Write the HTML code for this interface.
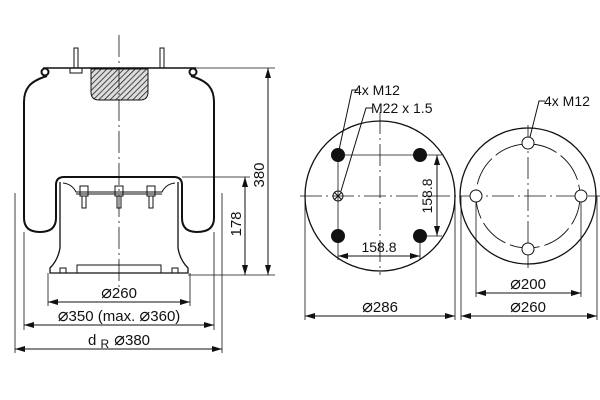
<!DOCTYPE html>
<html><head><style>body{margin:0;background:#fff}svg{display:block}text{font-family:"Liberation Sans",sans-serif;fill:#111}.d{font-size:18px}</style></head><body>
<svg width="600" height="400" viewBox="0 0 600 400" xmlns="http://www.w3.org/2000/svg">
<defs>
<pattern id="h" width="4" height="4" patternUnits="userSpaceOnUse" patternTransform="rotate(45)"><rect width="4" height="4" fill="#ddd"/><line x1="0" y1="0" x2="0" y2="4" stroke="#222" stroke-width="1.6"/></pattern>
<marker id="a" viewBox="0 0 10 6" refX="10" refY="3" markerWidth="10" markerHeight="6" orient="auto-start-reverse" markerUnits="userSpaceOnUse"><path d="M0,0L10,3L0,6z" fill="#111"/></marker>
</defs>
<g fill="none" stroke="#111" stroke-width="1">
<line x1="43" y1="68" x2="196" y2="68" stroke-width="1.5"/>
<rect x="74" y="48" width="4" height="20"/><rect x="160" y="48" width="4" height="20"/>
<rect x="70" y="68" width="12" height="5"/>
<path d="M91,69 H148 V92 Q148,100 140,100 H99 Q91,100 91,92 Z" fill="url(#h)"/>
<circle cx="45" cy="72" r="3.5" stroke-width="2"/><circle cx="193" cy="72" r="3.5" stroke-width="2"/>
<path d="M47,76 Q34,80 29,86 Q24,92 24,102 V218 Q24,232 40,232 Q56,232 56,218 V185 Q56,177 64,177 H174 Q182,177 182,185 V218 Q182,232 197,232 Q214,232 214,218 V102 Q214,92 209,86 Q204,80 191,76" stroke-width="2"/>
<path d="M60,182 V248 Q58,260 50,268 V273 H188 V268 Q180,260 178,248 V182" stroke-width="1.3"/>
<path d="M63,183 Q72,184 76,192 H162 Q166,184 175,183"/>
<line x1="76" y1="194" x2="162" y2="194"/>
<rect x="80" y="186" width="8" height="10"/><rect x="115" y="186" width="8" height="10"/><rect x="147" y="186" width="8" height="10"/>
<rect x="82" y="196" width="4" height="12"/><rect x="117" y="196" width="4" height="12"/><rect x="149" y="196" width="4" height="12"/>
<path d="M77,273 V265 H161 V273"/>
<rect x="60" y="268" width="6" height="5"/><rect x="172" y="268" width="6" height="5"/>
<line x1="119" y1="35" x2="119" y2="290" stroke-dasharray="22,4,2,4" stroke-width="0.8"/>
<line x1="196" y1="68" x2="275" y2="68" stroke-width="0.8"/>
<line x1="182" y1="177" x2="250" y2="177" stroke-width="0.8"/>
<line x1="188" y1="275" x2="275" y2="275" stroke-width="0.8"/>
<line x1="268" y1="68" x2="268" y2="275" marker-start="url(#a)" marker-end="url(#a)"/>
<line x1="245" y1="177" x2="245" y2="275" marker-start="url(#a)" marker-end="url(#a)"/>
<line x1="48" y1="273" x2="48" y2="306" stroke-width="0.8"/><line x1="190" y1="273" x2="190" y2="306" stroke-width="0.8"/>
<line x1="24" y1="232" x2="24" y2="330" stroke-width="0.8"/><line x1="214" y1="232" x2="214" y2="330" stroke-width="0.8"/>
<line x1="15" y1="193" x2="15" y2="353" stroke-width="0.8"/><line x1="222" y1="193" x2="222" y2="353" stroke-width="0.8"/>
<line x1="48" y1="302" x2="190" y2="302" marker-start="url(#a)" marker-end="url(#a)"/>
<line x1="24" y1="325" x2="214" y2="325" marker-start="url(#a)" marker-end="url(#a)"/>
<line x1="15" y1="349" x2="222" y2="349" marker-start="url(#a)" marker-end="url(#a)"/>
<circle cx="380" cy="196" r="75" stroke-width="1.3"/>
<line x1="300" y1="196" x2="600" y2="196" stroke-dasharray="22,4,2,4" stroke-width="0.8"/>
<line x1="380" y1="112" x2="380" y2="275" stroke-dasharray="22,4,2,4" stroke-width="0.8"/>
<line x1="338" y1="155" x2="338" y2="260" stroke-width="0.8"/><line x1="420" y1="236" x2="420" y2="260" stroke-width="0.8"/>
<line x1="338" y1="155" x2="442" y2="155" stroke-width="0.8"/><line x1="420" y1="236" x2="442" y2="236" stroke-width="0.8"/>
<line x1="437" y1="155" x2="437" y2="236" marker-start="url(#a)" marker-end="url(#a)"/>
<line x1="338" y1="256" x2="420" y2="256" marker-start="url(#a)" marker-end="url(#a)"/>
<circle cx="338" cy="196" r="5"/><path d="M334.5,192.5l7,7M341.5,192.5l-7,7"/>
<path d="M358,90 H352 L339,150"/><path d="M372,108 H366 L341,191"/>
<line x1="305" y1="196" x2="305" y2="320" stroke-width="0.8"/><line x1="455" y1="196" x2="455" y2="320" stroke-width="0.8"/>
<line x1="305" y1="316" x2="455" y2="316" marker-start="url(#a)" marker-end="url(#a)"/>
<circle cx="528" cy="196" r="68" stroke-width="1.3"/>
<circle cx="528" cy="196" r="52" stroke-dasharray="30,5" stroke-width="0.9"/>
<line x1="528" y1="125" x2="528" y2="268" stroke-dasharray="22,4,2,4" stroke-width="0.8"/>
<circle cx="528" cy="143" r="6" fill="#fff"/><circle cx="476" cy="196" r="6" fill="#fff"/><circle cx="581" cy="196" r="6" fill="#fff"/><circle cx="528" cy="249" r="6" fill="#fff"/>
<path d="M545,101 H539 L530,137"/>
<line x1="476" y1="202" x2="476" y2="297" stroke-width="0.8"/><line x1="581" y1="202" x2="581" y2="297" stroke-width="0.8"/>
<line x1="461" y1="196" x2="461" y2="320" stroke-width="0.8"/><line x1="597" y1="196" x2="597" y2="320" stroke-width="0.8"/>
<line x1="476" y1="293" x2="581" y2="293" marker-start="url(#a)" marker-end="url(#a)"/>
<line x1="461" y1="316" x2="597" y2="316" marker-start="url(#a)" marker-end="url(#a)"/>
</g>
<g fill="#111">
<circle cx="338" cy="155" r="7"/><circle cx="420" cy="155" r="7"/><circle cx="338" cy="236" r="7"/><circle cx="420" cy="236" r="7"/>
</g>
<g font-size="15">
<text x="264" y="175" transform="rotate(-90 264 175)" text-anchor="middle">380</text>
<text x="241" y="224" transform="rotate(-90 241 224)" text-anchor="middle">178</text>
<text x="119" y="298" text-anchor="middle"><tspan class="d">⌀</tspan>260</text>
<text x="119" y="321" text-anchor="middle"><tspan class="d">⌀</tspan>350 (max. <tspan class="d">⌀</tspan>360)</text>
<text x="119" y="345" text-anchor="middle">d <tspan font-size="12" dy="3">R</tspan><tspan dy="-3" class="d"> ⌀</tspan>380</text>
<text x="354" y="95" font-size="14">4x M12</text>
<text x="371" y="113" font-size="14">M22 x 1.5</text>
<text x="544" y="106" font-size="14">4x M12</text>
<text x="432" y="196" transform="rotate(-90 432 196)" text-anchor="middle" font-size="14">158.8</text>
<text x="379" y="252" text-anchor="middle" font-size="14">158.8</text>
<text x="380" y="312" text-anchor="middle"><tspan class="d">⌀</tspan>286</text>
<text x="528" y="289" text-anchor="middle"><tspan class="d">⌀</tspan>200</text>
<text x="528" y="312" text-anchor="middle"><tspan class="d">⌀</tspan>260</text>
</g>
</svg>
</body></html>
